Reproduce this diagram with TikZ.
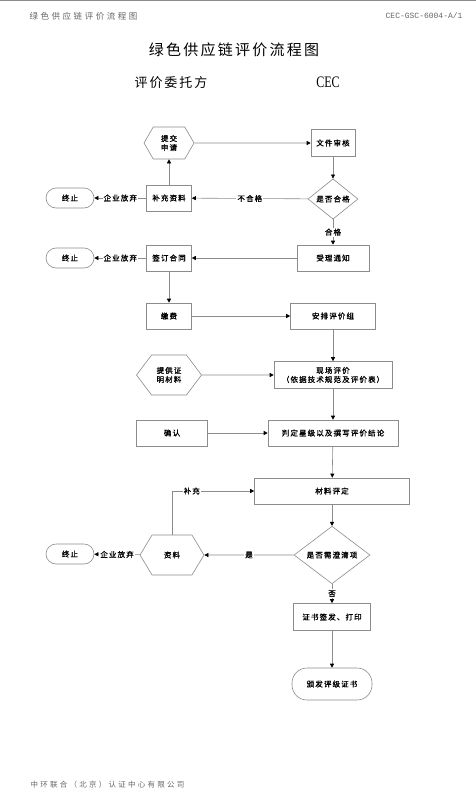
\documentclass[tikz,border=0pt]{standalone}
\usepackage{fontspec}
\usepackage{xcolor}
\usepackage{tikz}
\usetikzlibrary{shapes.geometric, shapes.symbols, arrows.meta, positioning}

\newfontfamily\cjk[LetterSpace=15]{Noto Sans CJK SC}
\newfontfamily\cjkbold[LetterSpace=15, FakeBold=1.2]{Noto Sans CJK SC}
\newfontfamily\cjkhead[LetterSpace=30]{Noto Sans CJK SC}
\newfontfamily\cecserif[FakeStretch=0.75]{Liberation Serif}
\newfontfamily\codefont{Liberation Mono}
\newcommand{\nodefont}{\cjkbold\fontsize{7.5}{9}\selectfont}
\definecolor{linegray}{HTML}{8C8C8C}
\definecolor{headgray}{HTML}{666666}

\begin{document}
\begin{tikzpicture}[
    x=1pt, y=-1pt,
    proc/.style={rectangle, draw=linegray, line width=0.6pt, fill=white, font=\nodefont, minimum height=26pt, inner sep=1pt, align=center},
    hexa/.style={signal, signal to=west and east, draw=linegray, line width=0.6pt, fill=white, font=\nodefont, inner sep=1pt, align=center},
    term/.style={rectangle, rounded corners=10pt, draw=linegray, line width=0.6pt, fill=white, font=\nodefont, minimum width=48pt, minimum height=20pt},
    decision/.style={diamond, draw=linegray, line width=0.6pt, fill=white, font=\nodefont, inner sep=0pt},
    arrow/.style={draw=linegray, line width=0.6pt, -{Triangle[length=4pt, width=4pt, color=black]}},
    lbl/.style={fill=white, font=\nodefont, inner sep=1pt}
]
    \useasboundingbox (0,0) rectangle (476,800);
    \draw[linegray, line width=1pt] (0,0.5) -- (476,0.5);

    % page header and titles
    \node[anchor=west, text=headgray, font=\cjkhead\fontsize{8.5}{10}\selectfont] (headtitle) at (26,16) {绿色供应链评价流程图};
    \node[anchor=east, text=headgray, font=\codefont\fontsize{8}{10}\selectfont] (headcode) at (466,16) {CEC-GSC-6004-A/1};
    \node[font=\cjk\fontsize{15}{18}\selectfont] (title) at (234,50) {绿色供应链评价流程图};
    \node[font=\cjk\fontsize{13}{16}\selectfont] (client) at (171,83) {评价委托方};
    \node[font=\cecserif\fontsize{16}{18}\selectfont] (cec) at (328,82) {CEC};

    % application
    \node[hexa, minimum width=50pt, minimum height=32pt, signal pointer angle=120] (submit) at (169,143) {提交\\申请};
    \node[proc, minimum width=44pt, minimum height=27pt] (review) at (333,143) {文件审核};
    \node[decision, minimum width=50pt, minimum height=29pt] (check) at (333,199) {是否合格};
    \node[proc, minimum width=45pt] (supply) at (169,198) {补充资料};
    \node[term] (stopA) at (70,198) {终止};
    \node[proc, minimum width=72pt] (notice) at (333,258) {受理通知};
    \node[proc, minimum width=45pt] (contract) at (169,258) {签订合同};
    \node[term] (stopB) at (70,258) {终止};

    % evaluation
    \node[proc, minimum width=45pt] (fee) at (169,316) {缴费};
    \node[proc, minimum width=85pt] (group) at (333,316) {安排评价组};
    \node[hexa, minimum width=65pt, minimum height=40pt, signal pointer angle=106] (proof) at (169,375) {提供证\\明材料};
    \node[proc, minimum width=118pt, minimum height=27pt] (onsite) at (333,375) {现场评价\\（依据技术规范及评价表）};
    \node[proc, minimum width=71pt] (confirm) at (172,433) {确认};
    \node[proc, minimum width=130pt] (judge) at (333,433) {判定星级以及撰写评价结论};

    % review of material and certificate
    \node[proc, minimum width=155pt] (material) at (332,491) {材料评定};
    \node[decision, minimum width=76pt, minimum height=44pt] (clarify) at (332,555) {是否需澄清项};
    \node[hexa, minimum width=64pt, minimum height=40pt, signal pointer angle=118] (docs) at (172,555) {资料};
    \node[term] (stopC) at (70,554) {终止};
    \node[proc, minimum width=77pt, minimum height=27pt] (cert) at (332,617) {证书签发、打印};
    \node[term, rounded corners=15pt, minimum width=80pt, minimum height=32pt] (issue) at (332,684) {颁发评级证书};

    \draw[arrow] (submit) -- (review);
    \draw[arrow] (review) -- (check);
    \draw[arrow] (check) -- node[lbl] {不合格} (supply);
    \draw[arrow] (supply) -- (submit);
    \draw[arrow] (supply) -- node[lbl] {企业放弃} (stopA);
    \draw[arrow] (check) -- node[lbl] {合格} (notice);
    \draw[arrow] (notice) -- (contract);
    \draw[arrow] (contract) -- node[lbl] {企业放弃} (stopB);
    \draw[arrow] (contract) -- (fee);
    \draw[arrow] (fee) -- (group);
    \draw[arrow] (group) -- (onsite);
    \draw[arrow] (proof) -- (onsite);
    \draw[arrow] (onsite) -- (judge);
    \draw[arrow] (confirm) -- (judge);
    \draw[arrow] (judge) -- (material);
    \draw[arrow] (material) -- (clarify);
    \draw[arrow] (clarify) -- node[lbl] {是} (docs);
    \draw[arrow] (docs.north) |- node[lbl, pos=0.62] {补充} (material.west);
    \draw[arrow] (docs) -- node[lbl] {企业放弃} (stopC);
    \draw[arrow] (clarify) -- node[lbl] {否} (cert);
    \draw[arrow] (cert) -- (issue);

    % footer
    \node[anchor=west, text=headgray, font=\cjkhead\fontsize{7.5}{9}\selectfont] (footer) at (27,785) {中环联合（北京）认证中心有限公司};
\end{tikzpicture}
\end{document}
